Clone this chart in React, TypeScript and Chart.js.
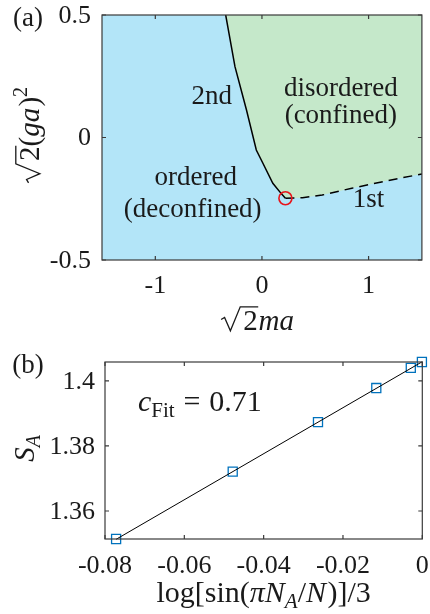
import React, { useEffect, useRef } from "react";
import { Chart, registerables } from "chart.js";
Chart.register(...registerables);

const FONT = '"Liberation Serif"';
const INK = "#1a1a1a";
const AXIS = "#3a3a3a";
const BLUE = "#b3e5f8";
const GREEN = "#c5e8ca";

// ---------- panel (a) data ----------
const secondOrderX = [-0.34, -0.253, -0.145, -0.053, 0.009, 0.102, 0.179, 0.22];
const secondOrderY = [0.5, 0.289, 0.112, -0.051, -0.105, -0.187, -0.228, -0.248];
const firstOrderX = [0.22, 0.38, 0.565, 0.843, 1.18, 1.5];
const firstOrderY = [-0.248, -0.246, -0.235, -0.207, -0.176, -0.149];
const criticalX = [0.22];
const criticalY = [-0.248];
const xTicksA = [-1, 0, 1];
const xTickLabelsA = ["-1", "0", "1"];
const yTicksA = [-0.5, 0, 0.5];
const yTickLabelsA = ["-0.5", "0", "0.5"];

// ---------- panel (b) data ----------
const logSinX = [-0.0772, -0.0478, -0.0263, -0.0116, -0.0029, -0.0001];
const entropyS = [1.3514, 1.3721, 1.3873, 1.3978, 1.404, 1.4058];
const fitX = [-0.0772, 0];
const fitY = [1.3513, 1.4059];
const xTicksB = [-0.08, -0.06, -0.04, -0.02, 0];
const xTickLabelsB = ["-0.08", "-0.06", "-0.04", "-0.02", "0"];
const yTicksB = [1.36, 1.38, 1.4];
const yTickLabelsB = ["1.36", "1.38", "1.4"];

const zip = (xs: number[], ys: number[]) => xs.map((x, i) => ({ x, y: ys[i] }));

type Seg = { t: string; it?: boolean; sub?: boolean; sup?: boolean; sqrt?: boolean; gap?: number };
const RAD = 0.8;

function segFont(s: Seg, size: number) {
  const sz = Math.round(s.sub || s.sup ? size * 0.7 : size);
  return `${s.it ? "italic " : ""}${sz}px ${FONT}`;
}
function richWidth(ctx: CanvasRenderingContext2D, segs: Seg[], size: number) {
  let w = 0;
  for (const s of segs) {
    ctx.font = segFont(s, size);
    w += ctx.measureText(s.t).width + (s.sqrt ? RAD * size : 0) + (s.gap || 0) * size;
  }
  return w;
}
function drawRadical(ctx: CanvasRenderingContext2D, x0: number, s: number, w: number) {
  ctx.beginPath();
  ctx.moveTo(x0 + 0.04 * s, -0.36 * s);
  ctx.lineTo(x0 + 0.16 * s, -0.43 * s);
  ctx.lineTo(x0 + 0.36 * s, 0.03 * s);
  ctx.lineTo(x0 + 0.7 * s, -0.8 * s);
  ctx.lineTo(x0 + RAD * s + w + 0.02 * s, -0.8 * s);
  ctx.lineWidth = 0.045 * s;
  ctx.lineJoin = "miter";
  ctx.stroke();
}
function drawRich(
  ctx: CanvasRenderingContext2D,
  segs: Seg[],
  px: number,
  py: number,
  size: number,
  rotate = false,
  align: "center" | "left" = "center"
) {
  ctx.save();
  ctx.translate(px, py);
  if (rotate) ctx.rotate(-Math.PI / 2);
  const W = richWidth(ctx, segs, size);
  let x = align === "center" ? -W / 2 : 0;
  ctx.textBaseline = "alphabetic";
  ctx.textAlign = "left";
  ctx.fillStyle = INK;
  ctx.strokeStyle = INK;
  for (const s of segs) {
    ctx.font = segFont(s, size);
    const dy = s.sub ? 0.2 * size : s.sup ? -0.42 * size : 0;
    const tw = ctx.measureText(s.t).width;
    if (s.sqrt) {
      drawRadical(ctx, x, size, tw);
      x += RAD * size;
    }
    ctx.fillText(s.t, x, dy);
    x += tw + (s.gap || 0) * size;
  }
  ctx.restore();
}

function drawFrame(chart: any, xt: number[], xl: string[], yt: number[], yl: string[], tickFont: number, yLabGap: number, xLabBase: number) {
  const { ctx, chartArea: a } = chart;
  const xs = chart.scales.x;
  const ys = chart.scales.y;
  ctx.save();
  ctx.strokeStyle = AXIS;
  ctx.lineWidth = 1.2;
  ctx.strokeRect(a.left, a.top, a.right - a.left, a.bottom - a.top);
  const tl = 4;
  ctx.beginPath();
  for (const v of xt) {
    const p = xs.getPixelForValue(v);
    ctx.moveTo(p, a.bottom);
    ctx.lineTo(p, a.bottom - tl);
    ctx.moveTo(p, a.top);
    ctx.lineTo(p, a.top + tl);
  }
  for (const v of yt) {
    const p = ys.getPixelForValue(v);
    ctx.moveTo(a.left, p);
    ctx.lineTo(a.left + tl, p);
    ctx.moveTo(a.right, p);
    ctx.lineTo(a.right - tl, p);
  }
  ctx.stroke();
  ctx.fillStyle = INK;
  ctx.font = `${tickFont}px ${FONT}`;
  ctx.textAlign = "center";
  ctx.textBaseline = "alphabetic";
  xt.forEach((v, i) => ctx.fillText(xl[i], xs.getPixelForValue(v), a.bottom + xLabBase));
  ctx.textAlign = "right";
  ctx.textBaseline = "middle";
  yt.forEach((v, i) => ctx.fillText(yl[i], a.left - yLabGap, ys.getPixelForValue(v) + 1));
  ctx.restore();
}

function PanelA() {
  const ref = useRef<HTMLCanvasElement>(null);
  useEffect(() => {
    const boundary = zip(secondOrderX, secondOrderY).concat(zip(firstOrderX, firstOrderY).slice(1));
    const bg = {
      id: "bgA",
      beforeDraw(chart: any) {
        const { ctx, chartArea: a } = chart;
        ctx.save();
        ctx.fillStyle = BLUE;
        ctx.fillRect(a.left, a.top, a.right - a.left, a.bottom - a.top);
        ctx.restore();
      },
    };
    const deco = {
      id: "decoA",
      afterDraw(chart: any) {
        const { ctx, chartArea: a } = chart;
        const xs = chart.scales.x;
        const ys = chart.scales.y;
        drawFrame(chart, xTicksA, xTickLabelsA, yTicksA, yTickLabelsA, 26, 11, 33);
        ctx.save();
        ctx.fillStyle = INK;
        ctx.textAlign = "center";
        ctx.textBaseline = "middle";
        ctx.font = `27px ${FONT}`;
        const put = (t: string, x: number, y: number) => ctx.fillText(t, xs.getPixelForValue(x), ys.getPixelForValue(y));
        put("2nd", -0.47, 0.165);
        put("disordered", 0.74, 0.2);
        put("(confined)", 0.74, 0.09);
        put("ordered", -0.62, -0.163);
        put("(deconfined)", -0.65, -0.296);
        put("1st", 1.0, -0.253);
        ctx.fillText("(a)", 28, 19);
        ctx.restore();
        drawRich(ctx, [{ t: "2", sqrt: true, gap: 0.03 }, { t: "ma", it: true }], (a.left + a.right) / 2 - 5, a.bottom + 70, 29);
        drawRich(
          ctx,
          [{ t: "2", sqrt: true }, { t: "(" }, { t: "ga", it: true, gap: 0.04 }, { t: ")" }, { t: "2", sup: true }],
          39,
          (a.top + a.bottom) / 2 - 2,
          29,
          true
        );
      },
    };
    const chart = new Chart(ref.current!, {
      type: "scatter",
      data: {
        datasets: [
          {
            data: [{ x: criticalX[0], y: criticalY[0] }],
            pointRadius: 6.5,
            pointBorderWidth: 1.6,
            pointBorderColor: "#e8141a",
            pointBackgroundColor: "rgba(0,0,0,0)",
            showLine: false,
          } as any,
          {
            data: zip(secondOrderX, secondOrderY),
            showLine: true,
            borderColor: "#000",
            borderWidth: 1.5,
            pointRadius: 0,
            fill: false,
          },
          {
            data: zip(firstOrderX, firstOrderY),
            showLine: true,
            borderColor: "#000",
            borderWidth: 1.5,
            borderDash: [9, 6],
            pointRadius: 0,
            fill: false,
          },
          {
            data: boundary,
            showLine: true,
            borderWidth: 0,
            borderColor: "rgba(0,0,0,0)",
            backgroundColor: GREEN,
            pointRadius: 0,
            fill: "end",
          },
        ],
      },
      options: {
        animation: false,
        responsive: false,
        layout: { padding: { top: 15, right: 4, left: 0, bottom: 0 } },
        plugins: { legend: { display: false }, tooltip: { enabled: false } },
        scales: {
          x: {
            type: "linear",
            min: -1.5,
            max: 1.5,
            grid: { display: false, drawTicks: false },
            border: { display: false },
            ticks: { display: false },
            afterFit: (s: any) => {
              s.height = 85;
            },
          },
          y: {
            type: "linear",
            min: -0.5,
            max: 0.5,
            grid: { display: false, drawTicks: false },
            border: { display: false },
            ticks: { display: false },
            afterFit: (s: any) => {
              s.width = 102;
            },
          },
        },
      },
      plugins: [bg, deco],
    } as any);
    return () => chart.destroy();
  }, []);
  return <canvas ref={ref} width={430} height={345} style={{ position: "absolute", left: 0, top: 0, width: 430, height: 345 }} />;
}

function PanelB() {
  const ref = useRef<HTMLCanvasElement>(null);
  useEffect(() => {
    const deco = {
      id: "decoB",
      afterDraw(chart: any) {
        const { ctx, chartArea: a } = chart;
        drawFrame(chart, xTicksB, xTickLabelsB, yTicksB, yTickLabelsB, 26, 10, 34);
        ctx.save();
        ctx.fillStyle = INK;
        ctx.textAlign = "center";
        ctx.textBaseline = "middle";
        ctx.font = `27px ${FONT}`;
        ctx.fillText("(b)", 28, 21);
        ctx.restore();
        drawRich(
          ctx,
          [{ t: "c", it: true }, { t: "Fit", sub: true, gap: 0.3 }, { t: "=", gap: 0.3 }, { t: "0.71" }],
          a.left + 33,
          a.top + 49,
          29.5,
          false,
          "left"
        );
        drawRich(ctx, [{ t: "S", it: true }, { t: "A", it: true, sub: true }], 34, (a.top + a.bottom) / 2 - 2, 29, true);
        drawRich(
          ctx,
          [
            { t: "log[sin(" },
            { t: "πN", it: true },
            { t: "A", it: true, sub: true },
            { t: "/" },
            { t: "N", it: true, gap: 0.05 },
            { t: ")]/3" },
          ],
          (a.left + a.right) / 2,
          a.bottom + 63,
          30
        );
      },
    };
    const chart = new Chart(ref.current!, {
      type: "scatter",
      data: {
        datasets: [
          {
            data: zip(fitX, fitY),
            showLine: true,
            borderColor: "#000",
            borderWidth: 1,
            pointRadius: 0,
            clip: false,
          } as any,
          {
            data: zip(logSinX, entropyS),
            showLine: false,
            pointStyle: "rect",
            pointRadius: 6.4,
            pointBorderWidth: 1.3,
            pointBorderColor: "#0072BD",
            pointBackgroundColor: "rgba(0,0,0,0)",
            clip: false,
          },
        ],
      },
      options: {
        animation: false,
        responsive: false,
        layout: { padding: { top: 17, right: 6, left: 0, bottom: 0 } },
        plugins: { legend: { display: false }, tooltip: { enabled: false } },
        scales: {
          x: {
            type: "linear",
            min: -0.08,
            max: 0,
            grid: { display: false, drawTicks: false },
            border: { display: false },
            ticks: { display: false },
            afterFit: (s: any) => {
              s.height = 75;
            },
          },
          y: {
            type: "linear",
            min: 1.3514,
            max: 1.4058,
            grid: { display: false, drawTicks: false },
            border: { display: false },
            ticks: { display: false },
            afterFit: (s: any) => {
              s.width = 105;
            },
          },
        },
      },
      plugins: [deco],
    } as any);
    return () => chart.destroy();
  }, []);
  return <canvas ref={ref} width={430} height={269} style={{ position: "absolute", left: 0, top: 345, width: 430, height: 269 }} />;
}

export default function App() {
  useEffect(() => {
    document.body.style.margin = "0";
    document.body.style.background = "#fff";
  }, []);
  return (
    <div style={{ position: "relative", width: 430, height: 614, background: "#fff", overflow: "hidden" }}>
      <PanelA />
      <PanelB />
    </div>
  );
}
